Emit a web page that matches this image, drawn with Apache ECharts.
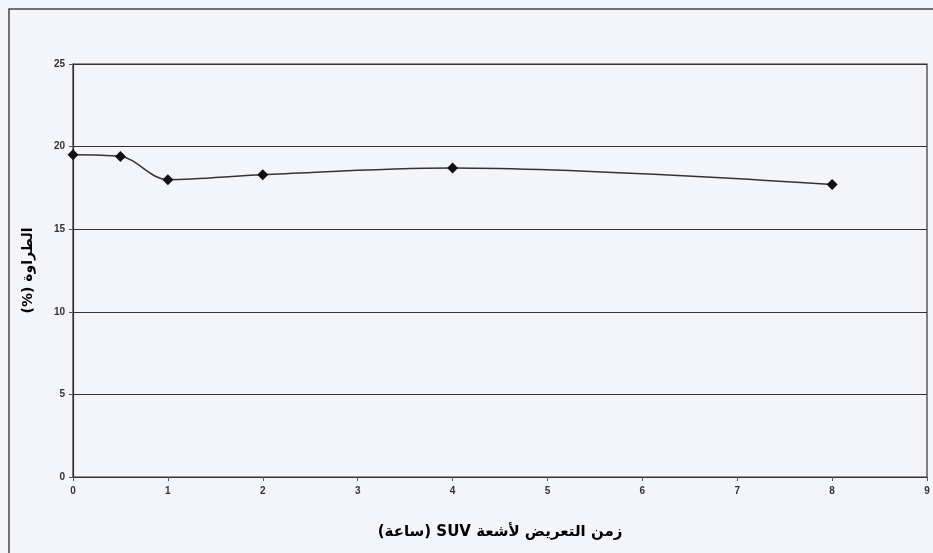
<!DOCTYPE html>
<html>
<head>
<meta charset="utf-8">
<script src="https://cdn.jsdelivr.net/npm/echarts@6/dist/echarts.min.js"></script>
<style>
  html, body { margin: 0; padding: 0; background: #f4f5fb; }
  #chart { width: 933px; height: 553px; }
</style>
</head>
<body>
<div id="chart"></div>
<script>
// Exposure time (hours) and measured values (%)
const hours = [0, 0.5, 1, 2, 4, 8];
const values = [19.5, 19.4, 18.0, 18.3, 18.7, 17.7];
const xTicks = [0, 1, 2, 3, 4, 5, 6, 7, 8, 9];
const yTicks = [0, 5, 10, 15, 20, 25];
const xTitle = 'زمن التعريض لأشعة SUV (ساعة)';
const yTitle = 'الطراوة (%)';

// wrap Arabic titles in a right-to-left embedding so the parentheses and latin parts sit correctly
const rtl = s => '\u202B' + s + '\u202C';

const chart = echarts.init(document.getElementById('chart'));
const labelStyle = { color: '#333', fontSize: 10, fontFamily: 'Liberation Sans, Arial, sans-serif', fontWeight: 'bold' };

chart.setOption({
  backgroundColor: '#f4f5fb',
  animation: false,
  graphic: [{
    type: 'rect',
    shape: { x: 9, y: 9, width: 960, height: 600 },
    style: { fill: 'none', stroke: '#444', lineWidth: 1.5 },
    silent: true
  }],
  grid: {
    left: 73, right: 6, top: 64, bottom: 76,
    show: true, backgroundColor: '#f4f5fb',
    borderColor: '#333', borderWidth: 1.2
  },
  xAxis: {
    type: 'value',
    min: xTicks[0], max: xTicks[xTicks.length - 1], interval: 1,
    name: rtl(xTitle), nameLocation: 'middle', nameGap: 48,
    nameTextStyle: { color: '#000', fontSize: 15, fontWeight: 'bold', fontFamily: 'DejaVu Sans, Noto Sans, sans-serif' },
    axisLine: { show: true, lineStyle: { color: '#333', width: 1.2 } },
    axisTick: { show: true, length: 4, lineStyle: { color: '#555' } },
    axisLabel: Object.assign({ margin: 9 }, labelStyle),
    splitLine: { show: false }
  },
  yAxis: {
    type: 'value',
    min: yTicks[0], max: yTicks[yTicks.length - 1], interval: 5,
    name: rtl(yTitle), nameLocation: 'middle', nameGap: 38, nameRotate: 90,
    nameTextStyle: { color: '#000', fontSize: 14, fontWeight: 'bold', fontFamily: 'DejaVu Sans, Noto Sans, sans-serif' },
    axisLine: { show: true, lineStyle: { color: '#333', width: 1.2 } },
    axisTick: { show: true, length: 4, lineStyle: { color: '#555' } },
    axisLabel: Object.assign({ margin: 8 }, labelStyle),
    splitLine: { show: true, lineStyle: { color: '#333', width: 1.2 } }
  },
  series: [{
    type: 'line',
    data: hours.map((h, i) => [h, values[i]]),
    smooth: 0.35,
    symbol: 'diamond',
    symbolSize: 11,
    itemStyle: { color: '#111' },
    lineStyle: { color: '#333', width: 1.5 }
  }]
});
</script>
</body>
</html>
